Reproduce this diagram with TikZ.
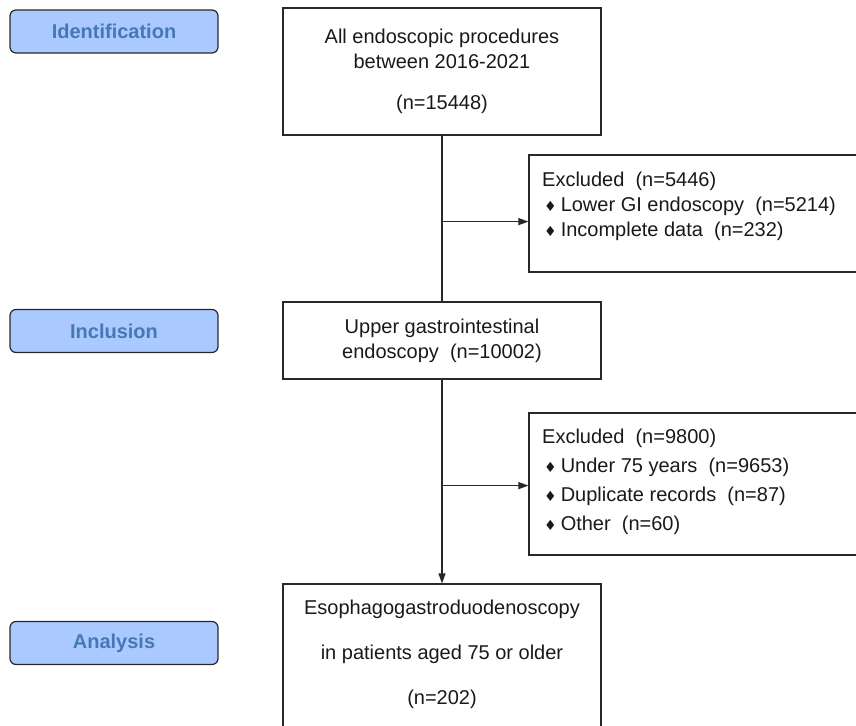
\documentclass[tikz,border=0pt]{standalone}
\usepackage{fontspec}
\setmainfont{Liberation Sans}
\newfontfamily\symfont{DejaVu Sans}
\usetikzlibrary{positioning, arrows.meta, calc}
\definecolor{StageFill}{RGB}{170,201,255}
\definecolor{StageText}{RGB}{70,120,182}
\definecolor{LineColor}{RGB}{40,40,40}

% Diamond bullet for the exclusion lists
\newcommand{\bul}{\hspace{2pt}{\symfont\fontsize{14}{14}\selectfont ♦}\hspace{4pt}}

\begin{document}
\begin{tikzpicture}[
    x=1pt, y=-1pt,
    every node/.style={font=\fontsize{20}{25}\selectfont, text=black!90},
    >={Triangle[length=10pt, width=7pt]},
    stage/.style={draw=LineColor, line width=1.2pt, fill=StageFill, rounded corners=6pt,
        minimum width=208pt, minimum height=43pt, font=\fontsize{20}{24}\selectfont\bfseries, text=StageText},
    flowbox/.style={draw=LineColor, line width=1.2pt, minimum width=318pt, inner sep=0pt},
    exclbox/.style={draw=LineColor, line width=1.2pt, minimum width=329pt, inner sep=0pt},
    boxtext/.style={align=center, inner sep=0pt},
    listtext/.style={align=left, inner sep=0pt, anchor=west},
    link/.style={draw=LineColor, line width=1.2pt},
]
\useasboundingbox (0,0) rectangle (856,725);

% Stage labels
\node[stage] (ident) at (114,31.5) {Identification};
\node[stage] (incl) at (114,331) {Inclusion};
\node[stage] (anal) at (114,643) {Analysis};

% Main flow
\node[flowbox, minimum height=127pt] (all) at (442,71.5) {};
\node[boxtext] (allt) at (all.center) {All endoscopic procedures\\between 2016-2021\\[16pt](n=15448)};

\node[flowbox, minimum height=77pt] (upper) at (442,340.5) {};
\node[boxtext] (uppert) at (upper.center) {Upper gastrointestinal\\endoscopy\ \ (n=10002)};

\node[flowbox, minimum height=148pt] (egd) at (442,658) {};
\node[boxtext, font=\fontsize{20}{45}\selectfont] (egdt) at (442,654.5) {Esophagogastroduodenoscopy\\in patients aged 75 or older\\(n=202)};

% Exclusions
\node[exclbox, minimum height=117pt] (excl1) at (693.5,213.5) {};
\node[listtext] (excl1t) at (542,206) {Excluded\ \ (n=5446)\\\bul Lower GI endoscopy\ \ (n=5214)\\\bul Incomplete data\ \ (n=232)};

\node[exclbox, minimum height=142pt] (excl2) at (693.5,484) {};
\node[listtext, font=\fontsize{20}{29}\selectfont] (excl2t) at (542,481.5) {Excluded\ \ (n=9800)\\\bul Under 75 years\ \ (n=9653)\\\bul Duplicate records\ \ (n=87)\\\bul Other\ \ (n=60)};

% Connectors
\coordinate (split1) at ([yshift=-86pt]all.south);
\coordinate (split2) at ([yshift=-106pt]upper.south);
\draw[link] (all.south) -- (upper.north);
\draw[link, ->] (split1) -- (split1 -| excl1.west);
\draw[link, ->] (upper.south) -- (egd.north);
\draw[link, ->] (split2) -- (split2 -| excl2.west);

\end{tikzpicture}
\end{document}
